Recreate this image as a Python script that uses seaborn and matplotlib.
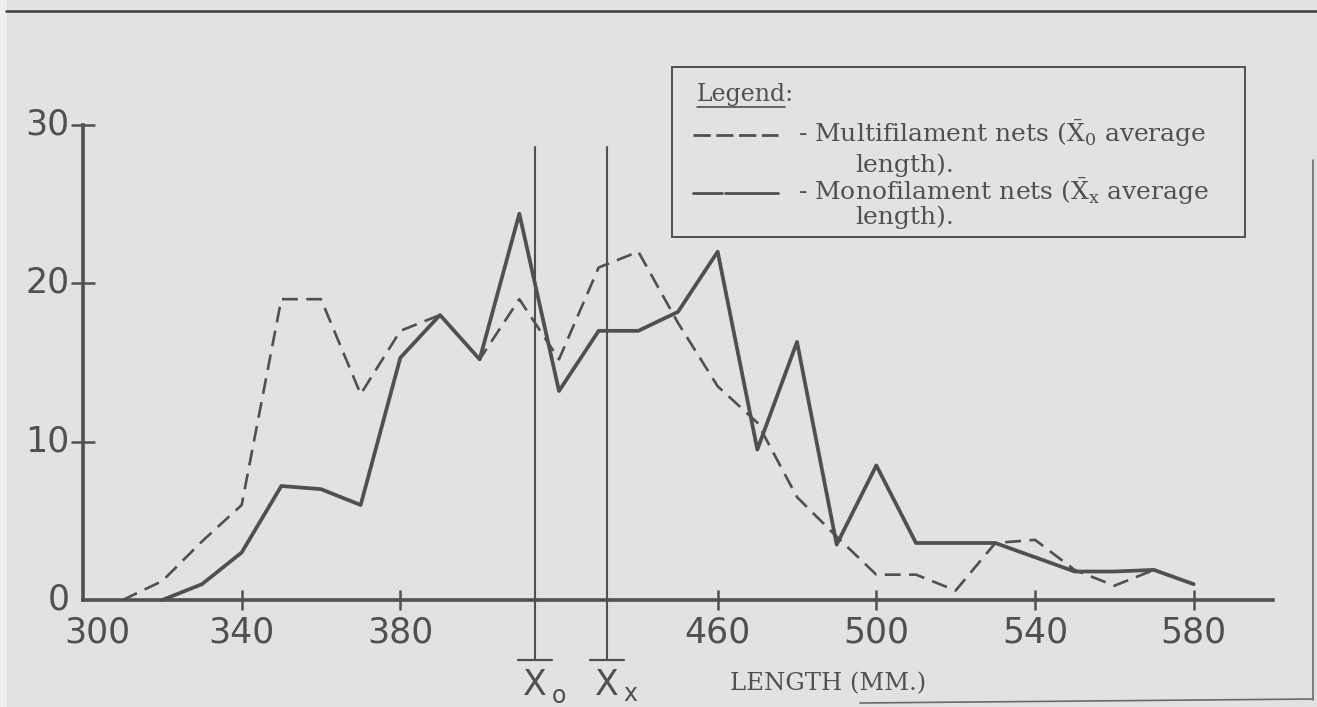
import matplotlib
matplotlib.use("Agg")
import matplotlib.pyplot as plt
import matplotlib.transforms as mtransforms
from matplotlib.lines import Line2D
from matplotlib.patches import Rectangle
import pandas as pd
import seaborn as sns

# ---------------- data ----------------
multi_length = [310, 320, 330, 340, 350, 360, 370, 380, 390, 400, 410, 420, 430, 440,
                450, 460, 470, 480, 490, 500, 510, 520, 530, 540, 550, 560, 570, 580]
multi_count = [0, 1.2, 3.7, 6, 19, 19, 13, 17, 18, 15.2, 19, 15.2, 21, 22,
               17.5, 13.5, 11.2, 6.5, 4, 1.6, 1.6, 0.6, 3.6, 3.8, 1.9, 0.9, 1.9, 1.0]

mono_length = [320, 330, 340, 350, 360, 370, 380, 390, 400, 410, 420, 430, 440, 450,
               460, 470, 480, 490, 500, 510, 520, 530, 540, 550, 560, 570, 580]
mono_count = [0, 1, 3, 7.2, 7, 6, 15.3, 18, 15.2, 24.4, 13.2, 17, 17, 18.2,
              22, 9.5, 16.3, 3.5, 8.5, 3.6, 3.6, 3.6, 2.7, 1.8, 1.8, 1.9, 1.0]

mean_names = ["o", "x"]
mean_length = [414, 432]

x_ticks = [300, 340, 380, 460, 500, 540, 580]
y_ticks = [0, 10, 20, 30]

legend_title = "Legend:"
legend_lines = [r"- Multifilament nets ($\bar{\mathrm{X}}_{0}$ average", "length).",
                r"- Monofilament nets ($\bar{\mathrm{X}}_{\mathrm{x}}$ average", "length)."]
x_label = "LENGTH (MM.)"

# ---------------- style ----------------
W, H = 1317, 707
BG = "#e2e2e2"
INK = "#505050"

sns.set_theme(style="ticks")
plt.rcParams["font.family"] = ["DejaVu Sans"]
plt.rcParams["mathtext.fontset"] = "dejavuserif"


def fx(px):
    return px / W


def fy(py):
    return 1 - py / H


fig = plt.figure(figsize=(W / 100, H / 100), dpi=100, facecolor=BG)
fig.add_artist(Rectangle((0, 0), fx(7), 1, transform=fig.transFigure,
                         facecolor="#efefef", edgecolor="none", zorder=0))

ax = fig.add_axes([fx(83), fy(600), (1273 - 83) / W, (600 - 125) / H])
ax.patch.set_alpha(0)

df_multi = pd.DataFrame({"length": multi_length, "count": multi_count})
df_mono = pd.DataFrame({"length": mono_length, "count": mono_count})

sns.lineplot(data=df_multi, x="length", y="count", ax=ax, color=INK,
             linewidth=1.9, linestyle=(0, (6, 3.2)), estimator=None, clip_on=False)
sns.lineplot(data=df_mono, x="length", y="count", ax=ax, color=INK,
             linewidth=2.7, estimator=None, clip_on=False)

ax.set_xlim(300, 600)
ax.set_ylim(0, 30)
sns.despine(ax=ax)
for s in ["left", "bottom"]:
    ax.spines[s].set_color(INK)
    ax.spines[s].set_linewidth(2.6)
    ax.spines[s].set_capstyle("projecting")

ax.set_xticks(x_ticks)
ax.set_yticks(y_ticks)
ax.set_xlabel("")
ax.set_ylabel("")
ax.tick_params(axis="x", direction="inout", length=15, width=1.8, color=INK,
               labelsize=25, labelcolor=INK, pad=4)
ax.tick_params(axis="y", direction="inout", length=17, width=1.8, color=INK,
               labelsize=25, labelcolor=INK, pad=1)
ax.xaxis.get_major_ticks()[0].tick1line.set_visible(False)
ax.yaxis.get_major_ticks()[0].tick1line.set_visible(False)

# hand-lettered offsets of the corner labels
fig.canvas.draw()
xl0 = ax.get_xticklabels()[0]
xl0.set_transform(xl0.get_transform() + mtransforms.ScaledTranslation(14 / 100, 0, fig.dpi_scale_trans))
for lab in ax.get_yticklabels():
    lab.set_transform(lab.get_transform() + mtransforms.ScaledTranslation(0, 4 / 100, fig.dpi_scale_trans))

# mean-length marker lines
blend = mtransforms.blended_transform_factory(ax.transData, fig.transFigure)
for name, m in zip(mean_names, mean_length):
    ax.plot([m, m], [-3.8, 28.6], color=INK, lw=1.5, clip_on=False)
    ax.plot([m - 4.3, m + 4.3], [-3.8, -3.8], color=INK, lw=1.6, clip_on=False)
    ax.text(m, fy(695), "X", transform=blend, ha="center", va="baseline",
            fontsize=25, color=INK)
    sub_y = 703 if name == "o" else 701
    ax.text(m, fy(sub_y), name, ha="left", va="baseline", fontsize=17, color=INK,
            transform=mtransforms.offset_copy(blend, fig=fig, x=17, y=0, units="dots"))

fig.text(fx(730), fy(690), x_label, family="DejaVu Serif", fontsize=17.5,
         color=INK, va="baseline")

# legend box
fig.add_artist(Rectangle((fx(672), fy(237)), fx(1245) - fx(672), fy(67) - fy(237),
                         transform=fig.transFigure, fill=False, edgecolor=INK, lw=1.4))
fig.text(fx(697), fy(101), legend_title, family="DejaVu Serif", fontsize=17,
         color=INK, va="baseline")
fig.add_artist(Line2D([fx(697), fx(785)], [fy(107), fy(107)], color=INK, lw=1.2))
fig.add_artist(Line2D([fx(693), fx(778)], [fy(135), fy(135)], color=INK, lw=2.0,
                      linestyle=(0, (6.2, 2))))
fig.add_artist(Line2D([fx(693), fx(722)], [fy(193), fy(193)], color=INK, lw=2.0))
fig.add_artist(Line2D([fx(725), fx(778)], [fy(193), fy(193)], color=INK, lw=2.0))
for (px, py), txt in zip([(798, 142), (855, 172), (798, 200), (855, 224)], legend_lines):
    fig.text(fx(px), fy(py), txt, family="DejaVu Serif", fontsize=18,
             color=INK, va="baseline")

# page frame
fig.add_artist(Line2D([fx(6), 1], [fy(11), fy(11)], color="#3c3c3c", lw=1.8))
fig.add_artist(Line2D([fx(1313), fx(1313)], [fy(160), fy(700)], color="#6a6a6a", lw=1.2))
fig.add_artist(Line2D([fx(860), fx(1313)], [fy(703), fy(699)], color="#6a6a6a", lw=1.2))

fig.savefig("out.png", dpi=100, facecolor=BG)
